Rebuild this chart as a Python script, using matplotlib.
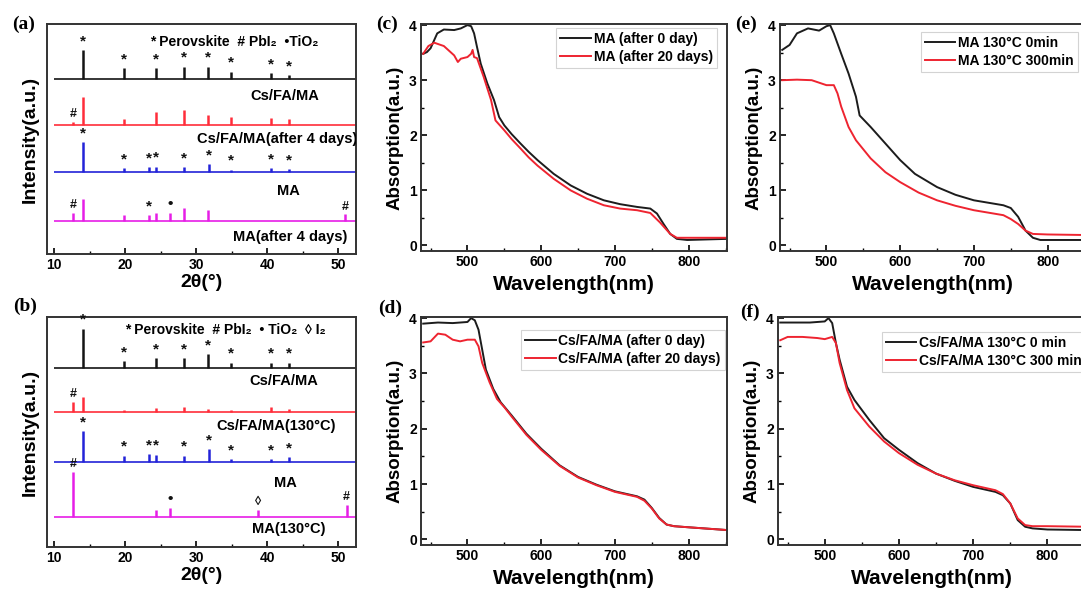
import matplotlib
matplotlib.use("Agg")
import matplotlib.pyplot as plt
from matplotlib.ticker import MultipleLocator

plt.rcParams['font.family'] = ['Liberation Sans', 'DejaVu Sans']
plt.rcParams['font.weight'] = 'bold'
plt.rcParams['axes.labelweight'] = 'bold'
plt.rcParams['xtick.direction'] = 'in'
plt.rcParams['ytick.direction'] = 'in'

# ---------------- XRD data (a) ----------------
scan_range = (10, 52.5)
a_offsets = [76, 56, 35.5, 14.3]
a_csfama_pos = [14.0, 19.9, 24.4, 28.3, 31.7, 34.9, 40.5, 43.1]
a_csfama_h = [12.7, 4.8, 4.8, 5.5, 5.5, 3.3, 2.6, 1.9]
a_csfama4_pos = [12.7, 14.0, 19.9, 24.4, 28.3, 31.7, 34.9, 40.5, 43.1]
a_csfama4_h = [1.4, 12.3, 2.9, 5.8, 6.5, 4.6, 3.6, 3.3, 2.9]
a_ma_pos = [14.1, 19.9, 23.4, 24.4, 28.3, 31.8, 34.9, 40.5, 43.1]
a_ma_h = [13.0, 1.7, 2.2, 2.5, 2.2, 3.6, 1.2, 1.7, 1.4]
a_ma4_pos = [12.7, 14.1, 19.9, 23.4, 24.4, 26.3, 28.3, 31.7, 51.0]
a_ma4_h = [3.6, 9.8, 2.5, 2.5, 3.6, 3.6, 5.8, 5.0, 2.9]
a_names = ['Cs/FA/MA', 'Cs/FA/MA(after 4 days)', 'MA', 'MA(after 4 days)']
a_marks = [
    [(p, '*') for p in a_csfama_pos],
    [(12.7, '#')],
    [(p, '*') for p in a_ma_pos],
    [(12.7, '#'), (23.4, '*'), (26.3, '•'), (51.0, '#')],
]

# ---------------- XRD data (b) ----------------
b_offsets = [77.7, 58.9, 36.9, 13.0]
b_csfama_pos = [14.0, 19.9, 24.4, 28.3, 31.7, 34.9, 40.5, 43.1]
b_csfama_h = [17.3, 3.1, 4.5, 4.5, 6.0, 2.4, 2.4, 2.4]
b_csfama130_pos = [12.7, 14.0, 19.9, 24.4, 28.3, 31.7, 34.9, 40.5, 43.1]
b_csfama130_h = [4.3, 6.4, 0.7, 1.4, 2.1, 1.0, 0.7, 1.8, 1.0]
b_ma_pos = [14.1, 19.9, 23.4, 24.4, 28.3, 31.8, 34.9, 40.5, 43.1]
b_ma_h = [13.5, 2.8, 3.5, 3.3, 2.8, 5.7, 1.4, 1.4, 2.1]
b_ma130_pos = [12.7, 24.4, 26.3, 38.7, 51.2]
b_ma130_h = [19.6, 3.3, 4.0, 3.3, 5.4]
b_names = ['Cs/FA/MA', 'Cs/FA/MA(130°C)', 'MA', 'MA(130°C)']
b_marks = [
    [(p, '*') for p in b_csfama_pos],
    [(12.7, '#')],
    [(p, '*') for p in b_ma_pos],
    [(12.7, '#'), (26.3, '•'), (38.7, '◊'), (51.2, '#')],
]

xrd_colors = ['#141414', '#ff2d3a', '#2323d8', '#e61ee6']

# ---------------- absorption data ----------------
ma_day0_wl = [440, 445, 450, 455, 459, 468, 482, 491, 500, 505, 509, 513, 518, 527, 536, 543, 550,
              560, 572, 583, 595, 617, 640, 662, 685, 707, 730, 748, 757, 766, 775, 784, 798, 852]
ma_day0 = [3.48, 3.51, 3.58, 3.73, 3.85, 3.92, 3.91, 3.94, 4.0, 3.98, 3.85, 3.6, 3.3, 2.94, 2.64,
           2.33, 2.18, 2.02, 1.85, 1.70, 1.55, 1.3, 1.09, 0.94, 0.82, 0.75, 0.70, 0.67, 0.58, 0.39,
           0.21, 0.12, 0.10, 0.12]
ma_day20_wl = [440, 447, 455, 468, 482, 487, 491, 500, 505, 507, 509, 513, 522, 532, 538, 550, 560,
               572, 583, 595, 617, 640, 662, 685, 707, 730, 748, 761, 775, 784, 852]
ma_day20 = [3.48, 3.62, 3.68, 3.62, 3.45, 3.33, 3.39, 3.42, 3.48, 3.55, 3.42, 3.40, 3.06, 2.64,
            2.27, 2.09, 1.93, 1.76, 1.60, 1.45, 1.21, 1.0, 0.85, 0.73, 0.67, 0.64, 0.59, 0.42, 0.21,
            0.14, 0.14]

ma_0min_wl = [440, 450, 460, 475, 490, 500, 505, 510, 520, 530, 540, 545, 560, 580, 600, 620, 650,
              675, 700, 740, 750, 760, 770, 780, 790, 852]
ma_0min = [3.55, 3.64, 3.85, 3.94, 3.90, 3.98, 4.0, 3.85, 3.48, 3.12, 2.70, 2.36, 2.15, 1.85, 1.55,
           1.30, 1.06, 0.92, 0.82, 0.73, 0.68, 0.52, 0.27, 0.14, 0.10, 0.10]
ma_300min_wl = [440, 460, 480, 500, 510, 515, 520, 530, 540, 560, 580, 600, 625, 650, 675, 700, 740,
                750, 760, 770, 780, 800, 852]
ma_300min = [3.0, 3.01, 3.0, 2.91, 2.91, 2.76, 2.52, 2.15, 1.91, 1.58, 1.33, 1.15, 0.96, 0.82, 0.72,
             0.64, 0.55, 0.48, 0.39, 0.27, 0.21, 0.20, 0.19]

cs_day0_wl = [440, 460, 480, 500, 505, 510, 515, 520, 525, 535, 545, 560, 580, 600, 625, 650, 675,
              700, 730, 740, 750, 760, 770, 780, 800, 852]
cs_day0 = [3.90, 3.92, 3.91, 3.93, 4.0, 3.96, 3.79, 3.43, 3.07, 2.72, 2.48, 2.24, 1.91, 1.64, 1.34,
           1.13, 0.99, 0.87, 0.78, 0.72, 0.57, 0.39, 0.27, 0.24, 0.22, 0.17]
cs_day20_wl = [440, 450, 460, 470, 480, 490, 500, 510, 515, 520, 530, 540, 550, 560, 580, 600, 625,
               650, 675, 700, 730, 740, 750, 760, 770, 780, 800, 852]
cs_day20 = [3.56, 3.58, 3.72, 3.70, 3.61, 3.58, 3.61, 3.61, 3.49, 3.19, 2.84, 2.54, 2.39, 2.22, 1.89,
            1.62, 1.33, 1.12, 0.98, 0.86, 0.77, 0.70, 0.56, 0.38, 0.27, 0.24, 0.22, 0.17]

cs_130_0_wl = [440, 460, 480, 500, 505, 510, 515, 520, 530, 540, 545, 560, 580, 600, 625, 650, 675,
               700, 730, 740, 750, 760, 770, 780, 800, 852]
cs_130_0 = [3.92, 3.92, 3.92, 3.94, 4.0, 3.91, 3.55, 3.25, 2.76, 2.52, 2.43, 2.16, 1.83, 1.62, 1.38,
            1.19, 1.06, 0.95, 0.86, 0.80, 0.65, 0.35, 0.23, 0.20, 0.18, 0.17]
cs_130_300_wl = [440, 450, 470, 490, 500, 510, 515, 520, 530, 540, 560, 580, 600, 625, 650, 675, 700,
                 730, 740, 750, 760, 770, 780, 800, 852]
cs_130_300 = [3.60, 3.66, 3.66, 3.64, 3.62, 3.66, 3.55, 3.19, 2.70, 2.37, 2.04, 1.77, 1.56, 1.35,
              1.19, 1.07, 0.98, 0.89, 0.82, 0.65, 0.38, 0.26, 0.24, 0.24, 0.23]

W, H = 1081, 593
fig = plt.figure(figsize=(W / 100, H / 100), dpi=100)


def box(x0, y0, x1, y1):
    # pixel box -> figure fraction
    return [x0 / W, 1 - y1 / H, (x1 - x0) / W, (y1 - y0) / H]


def style_spines(ax):
    for s in ax.spines.values():
        s.set_linewidth(1.4)
        s.set_color('#333333')


def draw_xrd(ax, offsets, traces, marks, names, name_xy, header, header_xy):
    for i, (pos, h) in enumerate(traces):
        base = offsets[i]
        c = xrd_colors[i]
        ax.hlines(base, scan_range[0], scan_range[1], color=c, lw=1.2)
        ax.vlines(pos, base, [base + v for v in h], color=c, lw=1.8)
        lookup = dict(zip(pos, h))
        for p, sym in marks[i]:
            y = base + lookup[p] + 0.8
            fs = 11 if sym in ('*', '•') else 9
            ax.text(p, y, sym, ha='center', va='bottom', fontsize=fs, color='#111111')
        ax.text(name_xy[i][0], name_xy[i][1], names[i], ha='center', va='center',
                fontsize=10.5, clip_on=True)
    ax.text(header_xy[0], header_xy[1], header, ha='left', va='center', fontsize=10)
    ax.set_xlim(9, 52.5)
    ax.set_ylim(0, 100)
    ax.set_yticks([])
    ax.xaxis.set_major_locator(MultipleLocator(10))
    ax.xaxis.set_minor_locator(MultipleLocator(5))
    ax.tick_params(axis='x', which='major', length=4, width=1.2, labelsize=10, pad=3)
    ax.tick_params(axis='x', which='minor', length=2, width=1)
    ax.set_xlabel('2θ(°)', fontsize=14, labelpad=1)
    ax.set_ylabel('Intensity(a.u.)', fontsize=14, labelpad=6)
    style_spines(ax)


def draw_abs(ax, wl0, y0, wl1, y1, labels, leg_anchor):
    ax.plot(wl0, y0, color='#1c1c1c', lw=1.4, label=labels[0])
    ax.plot(wl1, y1, color='#ee2430', lw=1.4, label=labels[1])
    ax.set_xlim(437, 852)
    ax.set_ylim(-0.1, 4.02)
    ax.xaxis.set_major_locator(MultipleLocator(100))
    ax.xaxis.set_minor_locator(MultipleLocator(50))
    ax.yaxis.set_major_locator(MultipleLocator(1))
    ax.yaxis.set_minor_locator(MultipleLocator(0.5))
    ax.tick_params(which='major', length=4, width=1.2, labelsize=10, pad=3)
    ax.tick_params(which='minor', length=2, width=1)
    ax.set_xlabel('Wavelength(nm)', fontsize=15, labelpad=4)
    ax.set_ylabel('Absorption(a.u.)', fontsize=13.5, labelpad=4)
    leg = ax.legend(loc='upper right', bbox_to_anchor=leg_anchor, borderaxespad=0,
                    fontsize=10, handlelength=2.2, handletextpad=0.2, labelspacing=0.25,
                    borderpad=0.3, frameon=True, fancybox=False)
    leg.get_frame().set_edgecolor('#c8c8c8')
    leg.get_frame().set_linewidth(0.8)
    style_spines(ax)


ax_a = fig.add_axes(box(47, 24, 356, 254))
draw_xrd(ax_a, a_offsets,
         [(a_csfama_pos, a_csfama_h), (a_csfama4_pos, a_csfama4_h),
          (a_ma_pos, a_ma_h), (a_ma4_pos, a_ma4_h)],
         a_marks, a_names,
         [(42.5, 68.5), (41.4, 49.8), (43.0, 27.4), (43.2, 7.2)],
         '* Perovskite  # PbI₂  •TiO₂', (23.5, 92))

ax_b = fig.add_axes(box(47, 317, 356, 547))
draw_xrd(ax_b, b_offsets,
         [(b_csfama_pos, b_csfama_h), (b_csfama130_pos, b_csfama130_h),
          (b_ma_pos, b_ma_h), (b_ma130_pos, b_ma130_h)],
         b_marks, b_names,
         [(42.3, 72.0), (41.2, 52.6), (42.5, 27.7), (43.1, 7.8)],
         '* Perovskite  # PbI₂  • TiO₂  ◊ I₂', (20.0, 94.3))

ax_c = fig.add_axes(box(421, 24, 727, 251))
draw_abs(ax_c, ma_day0_wl, ma_day0, ma_day20_wl, ma_day20,
         ['MA (after 0 day)', 'MA (after 20 days)'], (0.967, 0.982))

ax_e = fig.add_axes(box(780, 24, 1086, 251))
draw_abs(ax_e, ma_0min_wl, ma_0min, ma_300min_wl, ma_300min,
         ['MA 130°C 0min', 'MA 130°C 300min'], (0.974, 0.965))

ax_d = fig.add_axes(box(421, 317, 727, 545))
draw_abs(ax_d, cs_day0_wl, cs_day0, cs_day20_wl, cs_day20,
         ['Cs/FA/MA (after 0 day)', 'Cs/FA/MA (after 20 days)'], (0.993, 0.943))

ax_f = fig.add_axes(box(778, 317, 1086, 545))
draw_abs(ax_f, cs_130_0_wl, cs_130_0, cs_130_300_wl, cs_130_300,
         ['Cs/FA/MA 130°C 0 min', 'Cs/FA/MA 130°C 300 min'], (1.0, 0.934))

# panel letters
for lab, px, py in [('(a)', 24, 24), ('(b)', 25, 306), ('(c)', 387, 24),
                    ('(d)', 390, 308), ('(e)', 746, 24), ('(f)', 750, 312)]:
    fig.text(px / W, 1 - py / H, lab, ha='center', va='center', fontsize=14,
             family=['Liberation Serif', 'DejaVu Serif'], weight='bold')

fig.savefig('out.png', dpi=100)
